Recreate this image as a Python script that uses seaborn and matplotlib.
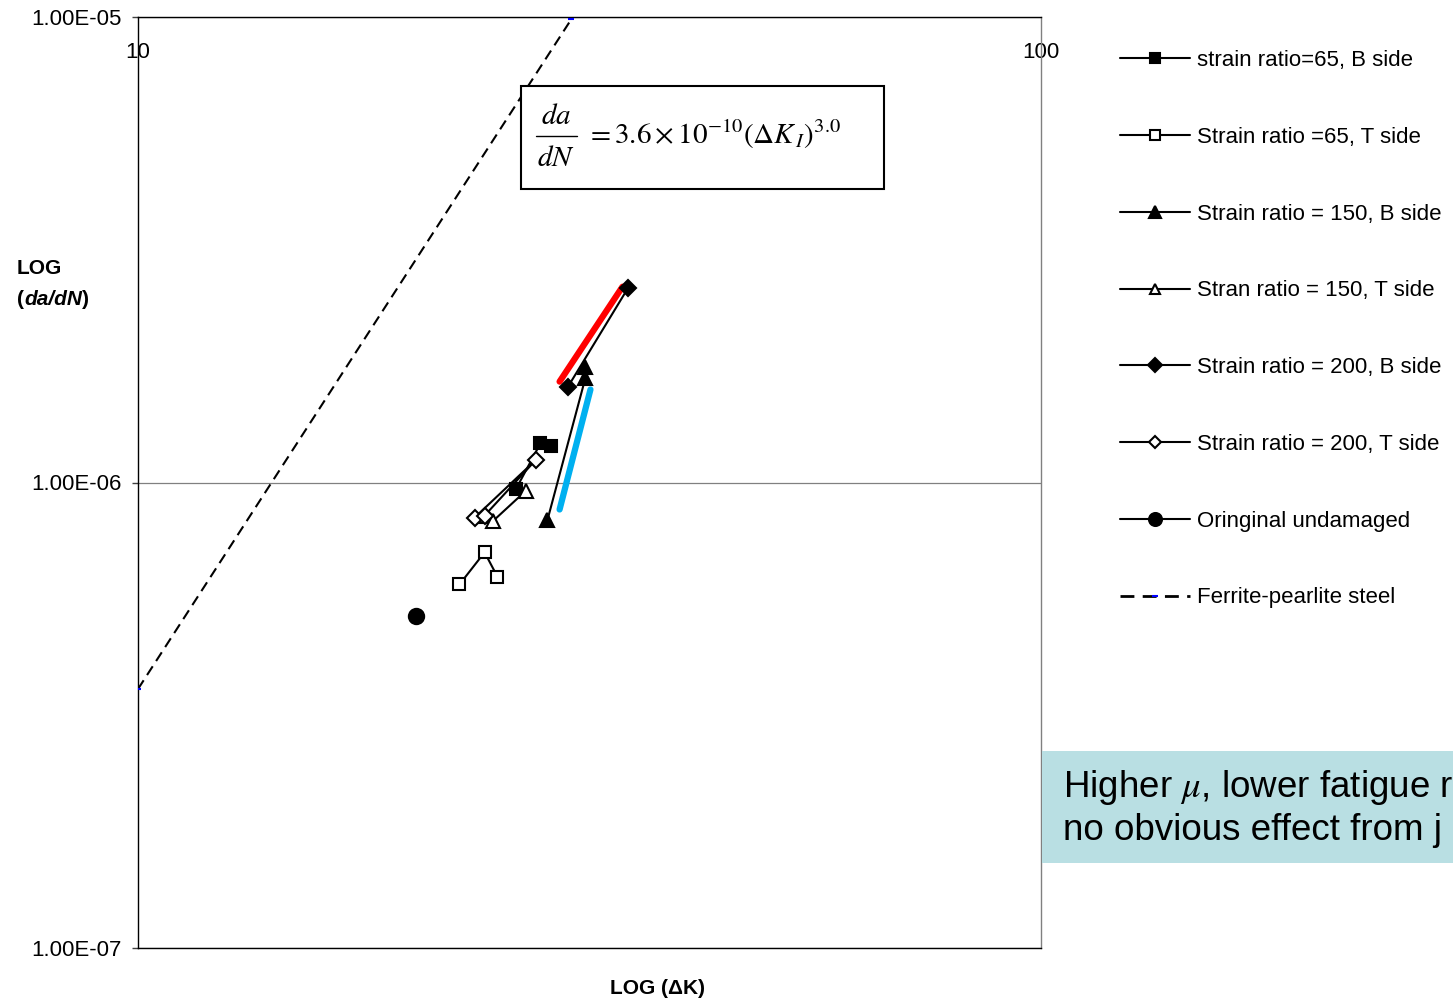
import matplotlib
matplotlib.use('Agg')
import seaborn as sns
from matplotlib import pyplot as plt
from matplotlib.patches import Rectangle
from matplotlib.lines import Line2D
from matplotlib.offsetbox import TextArea, HPacker, AnnotationBbox

# crack growth data (delta K, da/dN)
dk_65_b = [26.2, 27.9, 28.7]
dadn_65_b = [9.66e-7, 1.213e-6, 1.195e-6]

dk_65_t = [22.7, 24.2, 25.0]
dadn_65_t = [6.04e-7, 7.08e-7, 6.28e-7]

dk_150_b = [28.4, 31.3, 31.3]
dadn_150_b = [8.29e-7, 1.68e-6, 1.774e-6]

dk_150_t = [24.3, 24.7, 26.9]
dadn_150_t = [8.49e-7, 8.25e-7, 9.61e-7]

dk_200_b = [29.9, 34.9]
dadn_200_b = [1.60e-6, 2.62e-6]

dk_200_t = [23.6, 27.6, 24.2]
dadn_200_t = [8.41e-7, 1.12e-6, 8.49e-7]

dk_orig = [20.3]
dadn_orig = [5.16e-7]

dk_ferrite = [10.0, 30.2]
dadn_ferrite = [3.6e-7, 9.9e-6]

dk_red = [29.3, 34.4]
dadn_red = [1.647e-6, 2.634e-6]
dk_blue = [29.3, 31.7]
dadn_blue = [8.75e-7, 1.584e-6]

labels = ['strain ratio=65, B side', 'Strain ratio =65, T side',
          'Strain ratio = 150, B side', 'Stran ratio = 150, T side',
          'Strain ratio = 200, B side', 'Strain ratio = 200, T side',
          'Oringinal undamaged', 'Ferrite-pearlite steel']

y_ticks = [1e-7, 1e-6, 1e-5]
y_tick_labels = ['1.00E-07', '1.00E-06', '1.00E-05']
x_ticks = [10, 100]
x_tick_labels = ['10', '100']

sns.set_theme(style='white')
plt.rcParams['font.family'] = ['Liberation Sans', 'DejaVu Sans']
plt.rcParams['mathtext.fontset'] = 'stix'
for key in ['text.color', 'axes.labelcolor', 'xtick.color', 'ytick.color']:
    plt.rcParams[key] = 'black'

W, H = 1453, 1002
fig = plt.figure(figsize=(W / 100, H / 100), dpi=100)
ax = fig.add_axes([138 / W, 54 / H, 903 / W, 931 / H])
ax.set_xscale('log')
ax.set_yscale('log')
ax.set_xlim(10, 100)
ax.set_ylim(1e-7, 1e-5)

series = [
    (dk_65_b, dadn_65_b, 's', 'black', 9),
    (dk_65_t, dadn_65_t, 's', 'white', 8.5),
    (dk_150_b, dadn_150_b, '^', 'black', 9.5),
    (dk_150_t, dadn_150_t, '^', 'white', 9.5),
    (dk_200_b, dadn_200_b, 'D', 'black', 8),
    (dk_200_t, dadn_200_t, 'D', 'white', 8),
    (dk_orig, dadn_orig, 'o', 'black', 11),
]
handles = []
for (xs, ys, mk, fc, ms), lab in zip(series, labels):
    sns.lineplot(x=xs, y=ys, ax=ax, sort=False, estimator=None, color='black',
                 lw=1.5, marker=mk, markersize=ms, markerfacecolor=fc,
                 markeredgecolor='black', markeredgewidth=1.5, label=lab,
                 zorder=4)
    # smaller markers in the legend, as in the original
    handles.append(Line2D([], [], color='black', lw=1.5, marker=mk,
                          markersize=ms * (0.85 if fc == 'black' else 0.78),
                          markerfacecolor=fc, markeredgecolor='black',
                          markeredgewidth=1.5))

sns.lineplot(x=dk_ferrite, y=dadn_ferrite, ax=ax, sort=False, estimator=None,
             color='black', lw=1.5, linestyle=(0, (5, 3)), marker='_',
             markersize=5, markeredgecolor='#0000FF', markeredgewidth=1.5,
             label=labels[-1], zorder=3)
handles.append(Line2D([], [], color='black', lw=2, linestyle=(0, (5, 3)),
                      marker='_', markersize=5, markeredgecolor='#0000FF',
                      markeredgewidth=1.5))

sns.lineplot(x=dk_red, y=dadn_red, ax=ax, sort=False, estimator=None,
             color='#FF0000', lw=4.5, zorder=3)
sns.lineplot(x=dk_blue, y=dadn_blue, ax=ax, sort=False, estimator=None,
             color='#00B0F0', lw=4.5, zorder=3)

ax.minorticks_off()
ax.set_yticks(y_ticks)
ax.set_yticklabels(y_tick_labels)
ax.set_xticks(x_ticks)
ax.set_xticklabels(x_tick_labels)
ax.xaxis.tick_top()
ax.tick_params(axis='x', length=0, pad=-33, labelsize=16, colors='black')
ax.tick_params(axis='y', length=4, width=1, direction='out', pad=8,
               labelsize=16, color='#404040', labelcolor='black', left=True)
ax.yaxis.grid(True, color='#808080', lw=0.9)
ax.xaxis.grid(False)
ax.set_xlabel('')
ax.set_ylabel('')
for side, sp in ax.spines.items():
    sp.set_visible(True)
    sp.set_color('black')
    sp.set_linewidth(1.0)
ax.spines['right'].set_color('#808080')

ax.legend(handles, labels, loc='upper left', bbox_to_anchor=(1120 / W, 1 - 50 / H),
          bbox_transform=fig.transFigure, frameon=False, fontsize=16,
          handlelength=3.15, handletextpad=0.32, labelspacing=2.51,
          borderaxespad=0, borderpad=0, labelcolor='black')

# axis titles
bold = dict(family=['Liberation Sans', 'DejaVu Sans'], weight='bold', size=15,
            color='black')
fig.text(17 / W, 1 - 268 / H, 'LOG', ha='left', va='center', **bold)
row = HPacker(children=[TextArea('(', textprops=bold),
                        TextArea('da/dN', textprops={**bold, 'style': 'italic'}),
                        TextArea(')', textprops=bold)],
              sep=0, pad=0, align='baseline')
fig.add_artist(AnnotationBbox(row, (17 / W, 1 - 300 / H), xycoords='figure fraction',
                              box_alignment=(0, 0.5), frameon=False, pad=0))
fig.text(658 / W, 1 - 989 / H, 'LOG (ΔK)', ha='center', va='center', **bold)

# Paris law box
fig.add_artist(Rectangle((521 / W, 1 - 189 / H), 363 / W, 103 / H,
                         transform=fig.transFigure, facecolor='white',
                         edgecolor='black', lw=1.5, zorder=5))
eq = dict(fontsize=21, zorder=6, color='black')
fig.text(556 / W, 1 - 116 / H, '$da$', ha='center', va='center', **eq)
fig.text(556 / W, 1 - 158 / H, '$dN$', ha='center', va='center', **eq)
fig.add_artist(Line2D([536 / W, 577 / W], [1 - 136 / H, 1 - 136 / H],
                      transform=fig.transFigure, color='black', lw=1.0, zorder=6))
fig.text(586 / W, 1 - 134 / H,
         r'$= 3.6\times10^{-10}\left(\Delta K_{\,I}\right)^{3.0}$',
         ha='left', va='center', **eq)

# note box
fig.add_artist(Rectangle((1042 / W, 1 - 863 / H), 420 / W, 112 / H,
                         transform=fig.transFigure, facecolor='#B9DFE3',
                         edgecolor='none', zorder=5))
fig.text(1063 / W, 1 - 808 / H, 'Higher $\\mu$, lower fatigue r\nno obvious effect from j',
         ha='left', va='center', fontsize=26.5, linespacing=1.2, zorder=6)

fig.savefig('out.png', dpi=100)
